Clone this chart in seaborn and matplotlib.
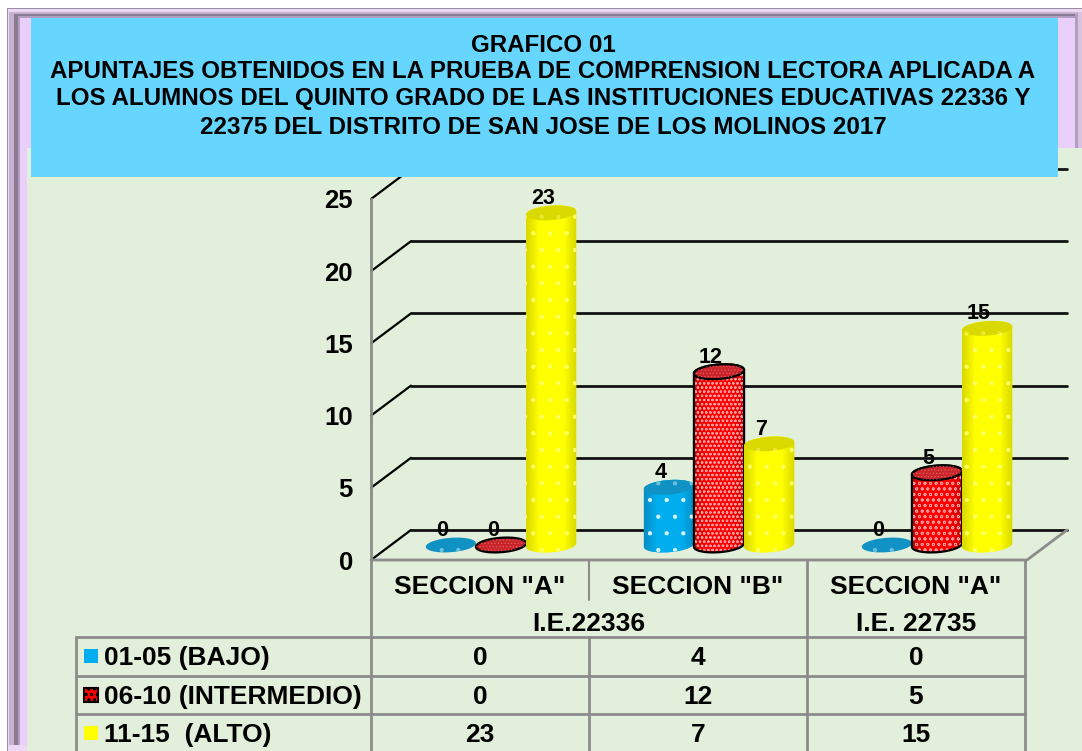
import numpy as np
import pandas as pd
import seaborn as sns
import matplotlib
matplotlib.use('Agg')
import matplotlib.pyplot as plt
from matplotlib.colors import LinearSegmentedColormap
from matplotlib.patches import Rectangle, Polygon

# data
secciones = ['SECCION "A"', 'SECCION "B"', 'SECCION "A"']
colegios = ['I.E.22336', 'I.E. 22735']
niveles = ['01-05 (BAJO)', '06-10 (INTERMEDIO)', '11-15  (ALTO)']
bajo = [0, 4, 0]
intermedio = [0, 12, 5]
alto = [23, 7, 15]
y_ticks = [0, 5, 10, 15, 20, 25]
titulo = ['GRAFICO 01',
          'APUNTAJES OBTENIDOS EN LA PRUEBA DE COMPRENSION LECTORA APLICADA A',
          'LOS ALUMNOS DEL QUINTO GRADO DE LAS INSTITUCIONES EDUCATIVAS 22336 Y',
          '22375 DEL DISTRITO DE SAN JOSE DE LOS MOLINOS 2017']

colores = ['#00AEEF', '#FF0000', '#FFFF00']
oscuros = ['#0A8CC4', '#C80000', '#D8D800']
tapas = ['#1192C4', '#C8242A', '#D9D900']
puntos = ['#D8F6FF', '#FF9A9A', '#FFFF66']

sns.set_theme(style='white')
plt.rcParams['font.family'] = ['Liberation Sans', 'DejaVu Sans']
plt.rcParams['hatch.linewidth'] = 0.6

W, H = 1082, 751
fig = plt.figure(figsize=(W / 100, H / 100), dpi=100, facecolor='white')


def px_axes(left, top, right, bottom, z):
    a = fig.add_axes([left / W, 1 - bottom / H, (right - left) / W, (bottom - top) / H], zorder=z)
    a.patch.set_alpha(0)
    return a


# background, frame and table live in pixel coordinates
bg = px_axes(0, 0, W, H, 0)
bg.set_xlim(0, W)
bg.set_ylim(H, 0)
bg.axis('off')


def rect(a, x0, y0, x1, y1, c, z=1):
    a.add_patch(Rectangle((x0, y0), x1 - x0, y1 - y0, fc=c, ec='none', zorder=z))


rect(bg, 7, 8, W, H, '#9A8FA6')
rect(bg, 8, 9, W, H, '#EBD9F5')
rect(bg, 9, 12, W, H, '#C4B2CE')
rect(bg, 14, 14, 1076, H, '#8A7A94')
rect(bg, 18, 16, 1076, H, '#B29EBE')
rect(bg, 20, 18, 1076, H, '#E9CFF9')
rect(bg, 1075, 14, 1078, 148, '#B29EBE')
rect(bg, 1078, 12, W, 148, '#D8C4E2')
rect(bg, 8, 745, 27, H, '#EBD9F5', 2)
rect(bg, 27, 148, W, H, '#E2EFDA', 2)

# depth of the chart box
fx, bx = 371, 411
front0, back0, unit = 560, 530, 14.44
right_f, right_b = 1027, 1067
for v in y_ticks:
    yf = front0 - v * unit
    yb = back0 - v * unit
    bg.plot([fx, bx], [yf, yb], color='black', lw=1.6, zorder=3)
    bg.plot([bx, right_b], [yb, yb], color='#111111', lw=2.0, zorder=3)
bg.plot([fx, right_f, right_b], [front0, front0, back0], color='#8C8C8C', lw=2, zorder=3)

# axis that carries the value ticks
ax_y = px_axes(fx, front0 - 25 * unit, fx + 1, front0, 2)
ax_y.set_ylim(0, 25)
ax_y.set_xticks([])
ax_y.set_yticks(y_ticks)
ax_y.tick_params(axis='y', length=0, pad=13, labelsize=18.5, labelcolor='black')
for lab in ax_y.get_yticklabels():
    lab.set_fontweight('bold')
for s in ['top', 'right', 'bottom']:
    ax_y.spines[s].set_visible(False)
ax_y.spines['left'].set_color('#8C8C8C')
ax_y.spines['left'].set_linewidth(2)

# bars, the axis runs a bit below zero so the round bases are not cut
df = pd.DataFrame({
    'grupo': [0, 1, 2] * 3,
    'nivel': [niveles[0]] * 3 + [niveles[1]] * 3 + [niveles[2]] * 3,
    'valor': bajo + intermedio + alto,
})
ax = px_axes(392, 545 - 25 * unit, 1046, 545 + unit, 3)
sns.barplot(data=df, x='grupo', y='valor', hue='nivel', hue_order=niveles, palette=colores,
            width=0.69, gap=0, dodge=True, legend=False, ax=ax)
ax.axis('off')

b = 7.2 / unit   # half height of the ellipse
s = 1.8 / unit   # tilt of the ellipse
t = np.linspace(0, 2 * np.pi, 80)

for i, cont in enumerate(ax.containers):
    cmap = LinearSegmentedColormap.from_list('c', [oscuros[i], colores[i], colores[i], colores[i], oscuros[i]])
    for j, bar in enumerate(cont):
        h = bar.get_height()
        x0, w = bar.get_x(), bar.get_width()
        xc = x0 + w / 2
        bar.set_visible(False)
        base = 10 * i + 10 * j
        ex = xc + w / 2 * np.cos(t)
        top_y = h + b * np.sin(t) + s * np.cos(t)
        red = i == 1
        if h > 0:
            # body: top half of the ellipse + bottom half at zero
            tt = np.linspace(0, np.pi, 40)
            xs = np.r_[xc + w / 2 * np.cos(tt), xc + w / 2 * np.cos(tt + np.pi)]
            ys = np.r_[h + b * np.sin(tt) + s * np.cos(tt),
                       b * np.sin(tt + np.pi) + s * np.cos(tt + np.pi)]
            body = Polygon(np.c_[xs, ys], closed=True, fc=colores[i], ec='none', zorder=base + 1)
            ax.add_patch(body)
            im = ax.imshow(np.linspace(0, 1, 64)[None, :], cmap=cmap, aspect='auto',
                           extent=(x0, x0 + w, -1, h + 1), zorder=base + 2)
            im.set_clip_path(body)
            ax.add_patch(Polygon(np.c_[xs, ys], closed=True, fc='none', ec=puntos[i], lw=0,
                                 hatch='oooo' if red and h > 10 else ('ooo' if red else '.'),
                                 zorder=base + 3))
            if red:
                ax.add_patch(Polygon(np.c_[xs, ys], closed=True, fc='none', ec='black', lw=1.6, zorder=base + 4))
        ax.add_patch(Polygon(np.c_[ex, top_y], closed=True, fc=tapas[i],
                             ec='black' if red else 'none', lw=1.6 if red else 0, zorder=base + 5))
        ax.add_patch(Polygon(np.c_[ex, top_y], closed=True, fc='none', ec=puntos[i], lw=0,
                             hatch='.....' if red else '.', alpha=0.4, zorder=base + 6))
        ax.annotate(f'{h:.0f}', (xc, h), xytext=(-6, 10.5), textcoords='offset points',
                    ha='center', va='center', fontsize=15.5, fontweight='bold', color='black', zorder=200)
ax.set_xlim(-0.5, 2.5)
ax.set_ylim(-1, 25)

# data table under the chart
gris = '#8C8C8C'
cols = [371, 589, 807, 1025]
filas = [637, 676, 714]
for y in filas:
    bg.plot([76, 1025], [y, y], color=gris, lw=2, zorder=3)
bg.plot([76, 76], [637, H], color=gris, lw=2, zorder=3)
bg.plot([371, 371], [560, H], color=gris, lw=2, zorder=3)
bg.plot([589, 589], [560, 600], color=gris, lw=1.5, zorder=3)
bg.plot([589, 589], [637, H], color=gris, lw=2, zorder=3)
bg.plot([807, 807], [560, H], color=gris, lw=2, zorder=3)
bg.plot([1025, 1025], [560, H], color=gris, lw=2, zorder=3)

centros = [(cols[k] + cols[k + 1]) / 2 for k in range(3)]
for cx, sec in zip(centros, secciones):
    bg.text(cx, 587, sec, ha='center', va='center', fontsize=19, fontweight='bold', color='black', zorder=4)
bg.text((cols[0] + cols[2]) / 2, 624, colegios[0], ha='center', va='center', fontsize=19, fontweight='bold', color='black', zorder=4)
bg.text(centros[2], 624, colegios[1], ha='center', va='center', fontsize=19, fontweight='bold', color='black', zorder=4)

ys_fila = [658, 697, 735]
for fila, nivel, vals, y, c in zip(range(3), niveles, [bajo, intermedio, alto], ys_fila, colores):
    bg.add_patch(Rectangle((84, y - 9), 14, 14, fc=c, ec='black' if fila == 1 else 'none',
                           lw=1.5, hatch='ooo' if fila == 1 else None, zorder=4))
    bg.text(104, y, nivel, ha='left', va='center', fontsize=19, fontweight='bold', color='black', zorder=4)
    for cx, v in zip(centros, vals):
        bg.text(cx, y, str(v), ha='center', va='center', fontsize=19, fontweight='bold', color='black', zorder=4)

# title box on top of everything
top = px_axes(0, 0, W, H, 10)
top.set_xlim(0, W)
top.set_ylim(H, 0)
top.axis('off')
rect(top, 31, 18, 1058, 177, '#66D6FF')
for linea, y in zip(titulo, [45, 72, 99, 128]):
    top.text(543, y, linea, ha='center', va='center', fontsize=17.4, fontweight='bold', color='black')

fig.savefig('out.png', dpi=100)
